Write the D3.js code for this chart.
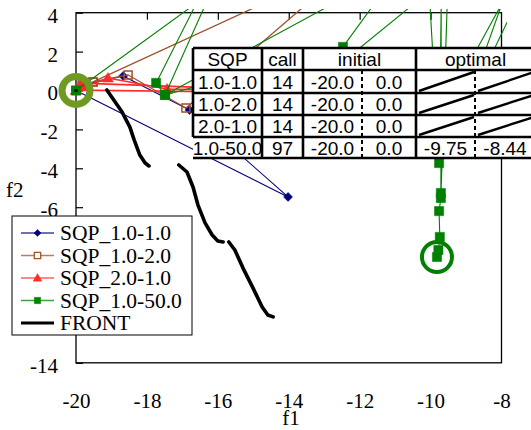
<!DOCTYPE html>
<html>
<head>
<meta charset="utf-8">
<script src="https://cdn.jsdelivr.net/npm/d3@7"></script>
<style>
body{margin:0;background:#fff;}
svg{display:block;}
</style>
</head>
<body>
<div id="chart"></div>
<script>
var f1Ticks = [-20,-18,-16,-14,-12,-10,-8];
var f2Ticks = [4,2,0,-2,-4,-6,-8,-10,-12,-14];

// f1,f2 of every iterate
var sqp11 = [[-20,0],[-19.86,0.25],[-18.67,0.75],[-16.8,-1.0],[-14.02,-5.47],[-20,0]];
var sqp12 = [[-20,0],[-19.83,0.28],[-19.52,0.44],[-18.53,0.8],[-16.9,-0.9],[-12.05,6.71],[-19.52,0.44]];
var sqp21 = [[-20,0],[-19.75,0.18],[-19.1,0.64],[-17.43,0.08],[-12.5,-0.1],[-19.85,0.38],[-20,0.02],[-12.0,-0.15]];
var sqp150 = [[-20,0],[-16.6,4.5],[-17.74,0.39],[-17.49,-0.23],[-16.33,4.5],[-12.71,4.5],[-17.49,-0.23],
  [-12.47,2.24],[-11.57,4.5],[-10.44,4.5],[-13.8,-0.49],[-9.48,-0.49],[-7.98,4.5],[-9.1,-1.26],[-7.58,4.5],
  [-10.02,4.5],[-9.76,-3.73],[-9.7,4.5],[-9.71,-5.27],[-9.53,4.5],[-9.71,-5.53],[-9.76,-6.2],[-9.74,-7.53],
  [-9.78,-8.2],[-9.82,-8.56]];
var front = [[-19.13,0.03],[-18.70,-1.11],[-18.48,-1.88],[-18.36,-2.54],[-18.20,-3.32],[-18.05,-3.73],[-17.94,-3.88],null,
  [-17.10,-3.83],[-16.87,-4.19],[-16.70,-4.96],[-16.56,-5.89],[-16.36,-6.81],[-16.16,-7.43],[-16.00,-7.74],[-15.85,-7.79],null,
  [-15.69,-7.79],[-15.52,-8.20],[-15.29,-9.13],[-15.01,-10.15],[-14.75,-11.13],[-14.59,-11.54],[-14.44,-11.64]];
var initialPoint = [-20,0];
var optimalPoint = [-9.82,-8.56];

var legendNames = ["SQP_1.0-1.0","SQP_1.0-2.0","SQP_2.0-1.0","SQP_1.0-50.0","FRONT"];

var tableHeader = ["SQP","call","initial","optimal"];
var tableRows = ["1.0-1.0","1.0-2.0","2.0-1.0","1.0-50.0"];
var tableCalls = ["14","14","14","97"];
var tableInitF1 = ["-20.0","-20.0","-20.0","-20.0"];
var tableInitF2 = ["0.0","0.0","0.0","0.0"];
var tableOptF1 = [null,null,null,"-9.75"];
var tableOptF2 = [null,null,null,"-8.44"];

var serif = "'Liberation Serif','Times New Roman',serif";
var sans = "'Liberation Sans',Arial,sans-serif";

var svg = d3.select("#chart").append("svg").attr("width",531).attr("height",430);
var x = d3.scaleLinear().domain([-20,-8]).range([76,501.5]);
var y = d3.scaleLinear().domain([4,-14]).range([12.7,362.8]);

svg.append("clipPath").attr("id","plotclip").append("rect")
  .attr("x",0).attr("y",9).attr("width",507).attr("height",421);

// axes
var fmt = function(d){ return String(d); };
var gl = svg.append("g").attr("transform","translate(" + x(-20) + ",0)")
  .call(d3.axisLeft(y).tickValues(f2Ticks).tickSizeInner(-7).tickSizeOuter(0).tickPadding(18).tickFormat(fmt));
var gb = svg.append("g").attr("transform","translate(0," + y(-14) + ")")
  .call(d3.axisBottom(x).tickValues(f1Ticks).tickSize(0).tickPadding(30).tickFormat(fmt));
var gt = svg.append("g").attr("transform","translate(0," + y(4) + ")")
  .call(d3.axisTop(x).tickValues(f1Ticks.slice(1,-1)).tickSizeInner(-7).tickSizeOuter(0).tickFormat(""));
[gl,gb,gt].forEach(function(g){
  g.select(".domain").remove();
  g.selectAll("line").attr("stroke","#000").attr("stroke-width",1.2);
  g.selectAll("text").attr("fill","#000").style("font-family",serif).style("font-size","21px");
});
gl.selectAll("text").attr("dy","0.45em");

svg.append("rect").attr("x",x(-20)).attr("y",y(4))
  .attr("width",x(-8)-x(-20)).attr("height",y(-14)-y(4))
  .attr("fill","none").attr("stroke","#000").attr("stroke-width",1.3);

svg.append("text").attr("x",291).attr("y",425).attr("text-anchor","middle")
  .style("font-family",serif).style("font-size","21px").text("f1");
svg.append("text").attr("x",6).attr("y",197)
  .style("font-family",serif).style("font-size","21px").text("f2");

// markers
var markers = {
  diamond: "M0,-4.5L4.5,0L0,4.5L-4.5,0Z",
  square: "M-4,-4H4V4H-4Z",
  bigsquare: "M-4.6,-4.6H4.6V4.6H-4.6Z",
  triangle: "M0,-5.5L5.5,4L-5.5,4Z"
};

var line = d3.line().x(function(d){return x(d[0]);}).y(function(d){return y(d[1]);});
var plot = svg.append("g").attr("clip-path","url(#plotclip)");

function drawSeries(data, color, lw, mk, filled){
  var g = plot.append("g");
  g.append("path").attr("d",line(data)).attr("fill","none")
    .attr("stroke",color).attr("stroke-width",lw).attr("stroke-linejoin","round");
  g.selectAll("path.mk").data(data).enter().append("path").attr("class","mk")
    .attr("transform",function(d){return "translate(" + x(d[0]) + "," + y(d[1]) + ")";})
    .attr("d",markers[mk])
    .attr("fill",filled ? color : "none")
    .attr("stroke",color).attr("stroke-width",filled ? 0.5 : 1.5);
}

drawSeries(sqp11,"#000080",1.1,"diamond",true);
drawSeries(sqp12,"#a0522d",1.3,"square",false);
drawSeries(sqp21,"#ff2a2a",1.6,"triangle",true);
drawSeries(sqp150,"#008000",1.1,"bigsquare",true);

// black dot at the shared start point
plot.append("rect").attr("x",x(initialPoint[0])-1.5).attr("y",y(initialPoint[1])-1.5)
  .attr("width",3).attr("height",3).attr("fill","#000");

var frontLine = d3.line().defined(function(d){return d !== null;})
  .x(function(d){return x(d[0]);}).y(function(d){return y(d[1]);});
plot.append("path").attr("d",frontLine(front)).attr("fill","none")
  .attr("stroke","#000").attr("stroke-width",3.6).attr("stroke-linecap","round").attr("stroke-linejoin","round");

// initial and optimal rings
svg.append("circle").attr("cx",x(initialPoint[0])).attr("cy",y(initialPoint[1])).attr("r",14)
  .attr("fill","none").attr("stroke","#6e9a1f").attr("stroke-width",7);
svg.append("circle").attr("cx",x(optimalPoint[0])).attr("cy",y(optimalPoint[1])).attr("r",15)
  .attr("fill","none").attr("stroke","#008000").attr("stroke-width",4);

// table
var colX = [193,262,303,362,416,475,535];
var rowY = [48,70,93,115,137,158];
var tb = svg.append("g");
tb.append("rect").attr("x",colX[0]).attr("y",rowY[0]).attr("width",colX[6]-colX[0]).attr("height",rowY[5]-rowY[0]).attr("fill","#fff");
rowY.forEach(function(r){
  tb.append("line").attr("x1",colX[0]).attr("x2",colX[6]).attr("y1",r).attr("y2",r)
    .attr("stroke","#000").attr("stroke-width",2.6);
});
tb.append("line").attr("x1",colX[0]).attr("x2",colX[0]).attr("y1",rowY[0]).attr("y2",rowY[4]).attr("stroke","#000").attr("stroke-width",2.6);
[1,2,4,6].forEach(function(i){
  tb.append("line").attr("x1",colX[i]).attr("x2",colX[i]).attr("y1",rowY[0]).attr("y2",rowY[5]).attr("stroke","#000").attr("stroke-width",2.6);
});
[3,5].forEach(function(i){
  tb.append("line").attr("x1",colX[i]).attr("x2",colX[i]).attr("y1",rowY[1]).attr("y2",rowY[5])
    .attr("stroke","#000").attr("stroke-width",2).attr("stroke-dasharray","4,3");
});

function cellText(txt, cx, r){
  tb.append("text").attr("x",cx).attr("y",(rowY[r]+rowY[r+1])/2+7).attr("text-anchor","middle")
    .style("font-family",sans).style("font-size","19px").text(txt);
}
var headCenters = [(colX[0]+colX[1])/2,(colX[1]+colX[2])/2,(colX[2]+colX[4])/2,(colX[4]+colX[6])/2];
tableHeader.forEach(function(h,i){ cellText(h,headCenters[i],0); });
tableRows.forEach(function(name,i){
  cellText(name,(colX[0]+colX[1])/2,i+1);
  cellText(tableCalls[i],(colX[1]+colX[2])/2,i+1);
  cellText(tableInitF1[i],(colX[2]+colX[3])/2,i+1);
  cellText(tableInitF2[i],(colX[3]+colX[4])/2,i+1);
  [[tableOptF1[i],4],[tableOptF2[i],5]].forEach(function(p){
    var x0 = colX[p[1]], x1 = colX[p[1]+1];
    if(p[0] === null){
      tb.append("line").attr("x1",x0+3).attr("y1",rowY[i+2]-2).attr("x2",x1-1).attr("y2",rowY[i+1]+2)
        .attr("stroke","#000").attr("stroke-width",2.4);
    } else {
      cellText(p[0],(x0+x1)/2,i+1);
    }
  });
});

// legend
var legendColors = ["#000080","#a0522d","#ff2a2a","#008000","#000"];
var legendMarks = ["diamond","square","triangle","square",null];
var lg = svg.append("g");
lg.append("rect").attr("x",12).attr("y",216).attr("width",180).attr("height",119)
  .attr("fill","#fff").attr("stroke","#000").attr("stroke-width",1);
legendNames.forEach(function(name,i){
  var ly = 233 + i*22.5;
  lg.append("line").attr("x1",21).attr("x2",54).attr("y1",ly).attr("y2",ly)
    .attr("stroke",legendColors[i]).attr("stroke-width",i == 4 ? 3 : 1.5).attr("stroke-opacity",i == 4 ? 1 : 0.75);
  if(legendMarks[i]){
    lg.append("path").attr("transform","translate(37.5," + ly + ") scale(0.8)").attr("d",markers[legendMarks[i]])
      .attr("fill",i == 1 ? "#fff" : legendColors[i]).attr("stroke",legendColors[i]).attr("stroke-width",i == 1 ? 1.6 : 0.5);
  }
  lg.append("text").attr("x",60).attr("y",ly+7).style("font-family",serif).style("font-size","21.5px").text(name);
});
</script>
</body>
</html>
